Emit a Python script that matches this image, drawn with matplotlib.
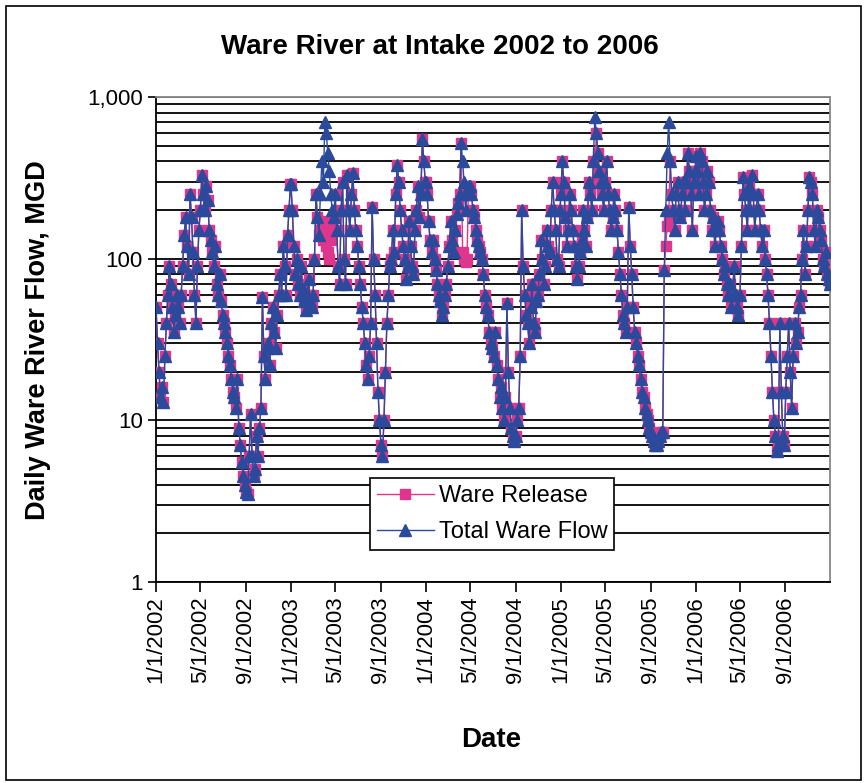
"""Ware River at Intake 2002 to 2006 — flujo diario (escala log)."""

import matplotlib

matplotlib.use("Agg")
import matplotlib.pyplot as plt
import matplotlib.ticker as mticker
import numpy as np
import pandas as pd
from matplotlib.patches import Rectangle

plt.rcParams["font.family"] = ["Liberation Sans", "DejaVu Sans"]

YEARS = [2002, 2003, 2004, 2005, 2006]

total_2002 = [50, 30, 20, 14, 16, 13, 25, 40,
              60, 90, 70, 50, 35, 45, 60,
              50, 40, 60, 90, 140, 180, 120, 80,
              250, 180, 110, 60, 40, 90, 150,
              200, 330, 250, 200, 280, 230, 150, 130,
              110, 90, 120, 70, 60, 80, 55, 45,
              40, 35, 30, 25, 22, 18, 15,
              14, 12, 18, 9, 7, 5.5, 4.5, 4,
              3.6, 3.5, 6, 11, 6, 4.5, 5, 8,
              6, 9, 12, 58, 25, 18, 28,
              30, 22, 40, 50, 35, 28, 45, 60,
              80, 60, 120, 90, 60, 140, 200, 290]
total_2003 = [290, 200, 120, 80, 100, 70, 60, 90,
              65, 55, 48, 60, 75, 55, 50,
              60, 100, 250, 180, 140, 250, 400, 300,
              700, 600, 450, 350, 250, 200, 180,
              250, 150, 90, 70, 200, 300, 100, 70,
              330, 200, 150, 250, 340, 200, 150, 120,
              90, 70, 50, 40, 30, 22, 18,
              25, 40, 210, 100, 60, 30, 15, 10,
              7, 6, 10, 20, 40, 60, 90, 100,
              150, 110, 250, 380, 300, 200, 150,
              120, 100, 75, 90, 170, 120, 90, 80,
              150, 200, 280, 180, 250, 550, 400, 300]
total_2004 = [300, 250, 170, 130, 110, 130, 100, 85,
              70, 60, 55, 45, 50, 60, 70,
              90, 120, 170, 130, 110, 150, 190, 220,
              250, 520, 400, 300, 200, 250, 280,
              280, 250, 200, 180, 150, 130, 120, 110,
              100, 80, 60, 50, 45, 35, 30, 28,
              25, 35, 22, 18, 14, 16, 12,
              10, 14, 53, 20, 12, 9, 8, 7.5,
              8, 10, 12, 25, 200, 90, 60, 45,
              40, 30, 50, 70, 40, 35, 55,
              60, 80, 130, 100, 70, 90, 150, 120,
              110, 200, 300, 200, 150, 100, 90, 200]
total_2005 = [250, 400, 300, 180, 120, 150, 250, 200,
              150, 120, 90, 75, 90, 110, 130,
              200, 150, 120, 180, 300, 250, 200, 400,
              750, 600, 450, 350, 300, 250, 200,
              300, 400, 250, 200, 150, 180, 250, 200,
              150, 110, 80, 60, 45, 40, 35, 50,
              210, 120, 80, 50, 35, 30, 25,
              22, 18, 15, 14, 12, 11, 10, 9,
              8.5, 8, 7.5, 7, 7, 7.5, 8, 8.5,
              8.5, 85, 200, 450, 700, 400, 250,
              200, 150, 250, 300, 200, 180, 250, 300,
              200, 300, 450, 350, 250, 150, 300, 350]
total_2006 = [430, 350, 250, 450, 400, 300, 200, 250,
              350, 300, 200, 150, 180, 120, 150,
              170, 150, 120, 100, 80, 90, 70, 60,
              70, 50, 60, 90, 60, 50, 45,
              60, 120, 320, 250, 200, 150, 280, 200,
              330, 250, 150, 200, 250, 200, 150, 120,
              150, 100, 80, 60, 40, 25, 15,
              10, 8, 6.5, 7, 40, 15, 8, 7,
              15, 25, 40, 20, 12, 25, 40, 30,
              35, 50, 60, 100, 150, 80, 120,
              200, 320, 300, 250, 150, 120, 200, 180,
              150, 130, 100, 90, 110, 80, 75, 70]

# Ware Release coincide con el total salvo en estos días (desvío a Wachusett)
release_diff_dates = ["2003-03-22", "2003-03-26", "2003-03-30", "2003-04-03", "2003-04-07",
                      "2003-04-11", "2003-04-15", "2003-04-19", "2003-04-23",
                      "2004-04-10", "2004-04-14", "2004-04-18", "2004-04-22",
                      "2005-04-03", "2005-10-12", "2005-10-16", "2005-10-20"]
release_diff_values = [150, 170, 130, 150, 120, 110, 100, 130, 170,
                       110, 100, 95, 100,
                       300, 120, 160, 180]

TICK_MONTHS = [1, 5, 9]
PINK = "#E0358C"
BLUE = "#2C4A9C"


def sample_dates(yr):
    return pd.date_range(f"{yr}-01-01", f"{yr}-12-31", freq="4D")


def main() -> None:
    dates = pd.DatetimeIndex(np.concatenate([sample_dates(y).values for y in YEARS]))
    total = np.concatenate([total_2002, total_2003, total_2004, total_2005, total_2006]).astype(float)
    release = pd.Series(total.copy(), index=dates)
    release.loc[pd.to_datetime(release_diff_dates)] = release_diff_values

    fig = plt.figure(figsize=(8.67, 7.83), dpi=100)
    ax = fig.add_axes([0.18, 0.2567, 0.7774, 0.6194])

    ax.plot(dates, release.values, color=PINK, lw=1.0, marker="s", ms=7,
            mec=PINK, mfc=PINK, label="Ware Release", zorder=3)
    ax.plot(dates, total, color=BLUE, lw=1.0, marker="^", ms=8,
            mec=BLUE, mfc=BLUE, label="Total Ware Flow", zorder=4)

    ax.set_yscale("log")
    ax.set_ylim(1, 1000)
    ax.yaxis.set_major_locator(mticker.LogLocator(base=10, numticks=10))
    ax.yaxis.set_minor_locator(mticker.LogLocator(base=10, subs=np.arange(2, 10), numticks=30))
    ax.yaxis.set_major_formatter(mticker.FuncFormatter(lambda v, p: f"{v:,.0f}"))
    ax.yaxis.set_minor_formatter(mticker.NullFormatter())
    ax.yaxis.grid(True, which="both", color="black", lw=1.3, zorder=1)
    ax.set_axisbelow(True)
    ax.tick_params(axis="y", which="major", length=6, width=1.2, labelsize=16, direction="out")
    ax.tick_params(axis="y", which="minor", length=0)

    ticks = [pd.Timestamp(y, m, 1) for y in YEARS for m in TICK_MONTHS]
    ax.set_xlim(pd.Timestamp(2002, 1, 1), pd.Timestamp(2006, 12, 31))
    ax.set_xticks(ticks)
    ax.set_xticklabels([f"{t.month}/{t.day}/{t.year}" for t in ticks], rotation=90, fontsize=16)
    ax.tick_params(axis="x", length=7, width=1.2, direction="out")

    for side in ("left", "bottom"):
        ax.spines[side].set_color("black")
        ax.spines[side].set_linewidth(1.3)
    for side in ("top", "right"):
        ax.spines[side].set_color("#888888")
        ax.spines[side].set_linewidth(1.3)

    leg = ax.legend(loc="upper left", bbox_to_anchor=(0.3175, 0.2144), fontsize=17,
                    handlelength=2.4, handletextpad=0.2, labelspacing=0.6,
                    borderpad=0.3, borderaxespad=0, fancybox=False, framealpha=1,
                    edgecolor="black")
    leg.get_frame().set_linewidth(1.2)

    fig.text(0.507, 0.94, "Ware River at Intake 2002 to 2006", ha="center", va="center",
             fontsize=20, fontweight="bold")
    fig.text(0.044, 0.566, "Daily Ware River Flow, MGD", ha="center", va="center",
             rotation=90, fontsize=19.5, fontweight="bold")
    fig.text(0.566, 0.055, "Date", ha="center", va="center", fontsize=20, fontweight="bold")

    fig.patches.append(Rectangle((0.007, 0.004), 0.986, 0.988, transform=fig.transFigure,
                                 fill=False, edgecolor="black", lw=1.2))

    fig.savefig("out.png", dpi=100)


if __name__ == "__main__":
    main()
